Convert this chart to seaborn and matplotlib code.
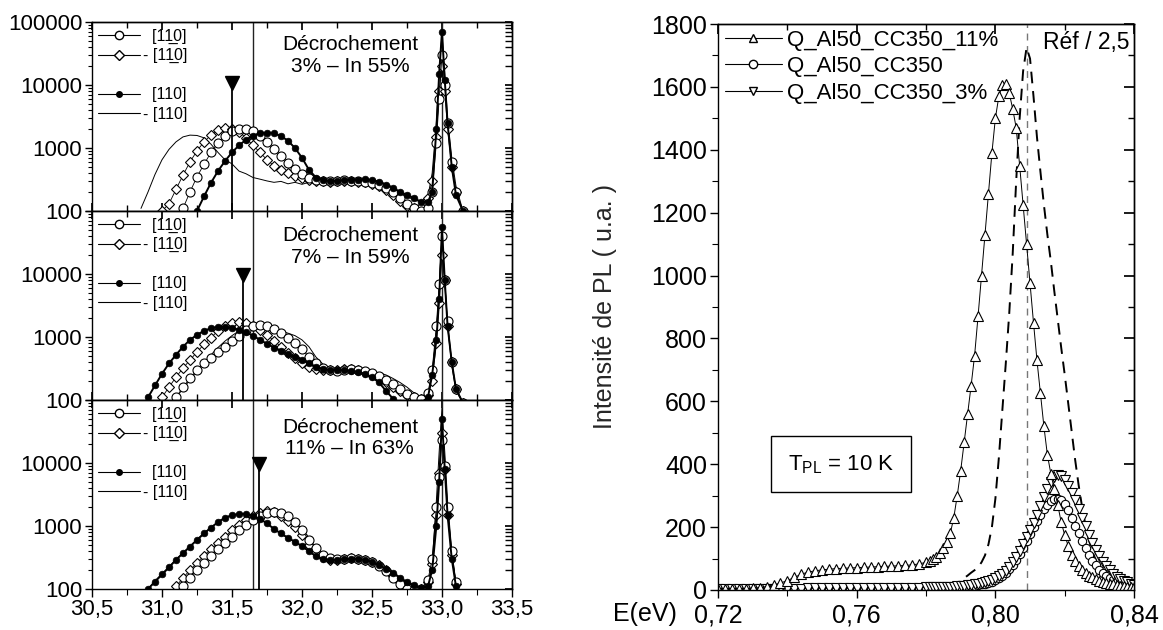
import numpy as np
import pandas as pd
import matplotlib
matplotlib.use("Agg")
import matplotlib.pyplot as plt
import seaborn as sns
from matplotlib.lines import Line2D
from matplotlib.ticker import FixedLocator, NullFormatter

N = np.nan

# ---------------- left panels : common energy grid ----------------
X_L = [30.85, 30.90, 30.95, 31.00, 31.05, 31.10, 31.15, 31.20, 31.25, 31.30,
       31.35, 31.40, 31.45, 31.50, 31.55, 31.60, 31.65, 31.70, 31.75, 31.80,
       31.85, 31.90, 31.95, 32.00, 32.05, 32.10, 32.15, 32.20, 32.25, 32.30,
       32.35, 32.40, 32.45, 32.50, 32.55, 32.60, 32.65, 32.70, 32.75, 32.80,
       32.85, 32.90, 32.93, 32.96, 32.98, 33.00, 33.02, 33.04, 33.07, 33.10,
       33.15]

# panel 1 : 3% - In 55%
P1_THIN = [110, 200, 380, 650, 950, 1250, 1500, 1600, 1580, 1450,
           1150, 850, 650, 560, 430, 390, 340, 320, 300, 285,
           295, 270, 285, 265, 285, 270, 290, 275, 295, 280,
           290, 270, 285, 265, 255, 240, 215, 195, 170, 150,
           140, 170, 400, 2500, 15000, 65000, 15000, 3000, 700, 250,
           100]
P1_DIA = [N, N, N, 100, 130, 220, 370, 600, 900, 1250,
          1600, 1900, 2050, 2000, 1800, 1450, 1100, 850, 650, 520,
          450, 400, 360, 330, 310, 300, 295, 290, 295, 300,
          295, 290, 285, 270, 245, 215, 180, 145, 120, 110,
          115, 160, 300, 1500, 8000, 20000, 8000, 2000, 500, 200,
          100]
P1_CIR = [N, N, N, N, N, N, 110, 200, 350, 550,
          850, 1200, 1550, 1850, 2000, 2000, 1850, 1550, 1250, 950,
          750, 580, 460, 390, 340, 310, 300, 300, 300, 305,
          300, 295, 290, 280, 260, 235, 200, 160, 130, 110,
          100, 110, 200, 1200, 6000, 30000, 10000, 2500, 600, 200,
          100]
P1_FIL = [N, N, N, N, N, N, N, N, 100, 170,
          280, 430, 620, 850, 1100, 1350, 1550, 1700, 1750, 1700,
          1550, 1300, 1000, 700, 450, 340, 310, 300, 300, 310,
          310, 310, 320, 310, 290, 260, 230, 200, 180, 160,
          140, 140, 200, 2000, 15000, 70000, 12000, 2500, 500, 180,
          100]

# panel 2 : 7% - In 59%
P2_THIN = [N, N, N, N, N, 110, 150, 210, 290, 390,
           520, 680, 860, 1050, 1250, 1400, 1450, 1400, 1350, 1300,
           1250, 1150, 1050, 900, 700, 480, 370, 320, 300, 310,
           320, 310, 300, 290, 270, 250, 220, 190, 160, 130,
           110, 120, 250, 1200, 6000, 40000, 7000, 1500, 350, 140,
           90]
P2_DIA = [N, N, N, 110, 160, 230, 320, 430, 580, 760,
          980, 1250, 1500, 1650, 1700, 1650, 1500, 1300, 1080, 870,
          700, 560, 460, 390, 340, 310, 300, 300, 300, 310,
          310, 300, 280, 250, 220, 190, 160, 140, 120, 110,
          105, 120, 200, 800, 3500, 20000, 8000, 1500, 400, 150,
          90]
P2_CIR = [N, N, N, N, N, 110, 160, 220, 300, 380,
          470, 570, 700, 850, 1050, 1300, 1500, 1550, 1500, 1350,
          1150, 950, 800, 650, 480, 380, 320, 300, 290, 300,
          310, 300, 290, 270, 240, 210, 180, 150, 125, 110,
          105, 130, 300, 1500, 7000, 40000, 8000, 1800, 400, 150,
          90]
P2_FIL = [N, 110, 170, 260, 380, 520, 700, 900, 1080, 1250,
          1380, 1450, 1450, 1400, 1300, 1180, 1050, 900, 780, 680,
          600, 530, 480, 430, 380, 340, 310, 300, 300, 300,
          290, 280, 260, 230, 190, 140, 105, 90, 80, 80,
          90, 110, 250, 900, 4000, 55000, 8000, 1500, 400, 150,
          90]

# panel 3 : 11% - In 63%
P3_THIN = [N, 100, 135, 175, 225, 295, 375, 480, 610, 770,
           950, 1160, 1360, 1490, 1550, 1540, 1440, 1290, 1090, 890,
           750, 640, 550, 470, 395, 330, 300, 290, 290, 300,
           300, 300, 290, 270, 240, 210, 175, 145, 125, 110,
           100, 105, 250, 2500, 15000, 74000, 15000, 2500, 400, 120,
           N]
P3_DIA = [N, N, N, N, N, 110, 150, 200, 260, 340,
          430, 540, 680, 850, 1050, 1250, 1450, 1600, 1700, 1650,
          1450, 1200, 950, 720, 500, 380, 320, 290, 290, 300,
          310, 300, 290, 270, 240, 200, 160, 130, 110, 100,
          100, 130, 250, 1500, 7000, 30000, 8000, 1500, 350, 120,
          N]
P3_CIR = [N, N, N, N, N, N, 110, 150, 200, 260,
          340, 430, 540, 680, 850, 1050, 1250, 1450, 1600, 1650,
          1600, 1450, 1150, 850, 600, 440, 350, 310, 300, 300,
          310, 300, 290, 270, 230, 190, 150, 120, 100, 95,
          100, 140, 300, 2000, 6000, 23000, 9000, 2000, 400, 130,
          N]
P3_FIL = [N, 100, 130, 170, 220, 290, 370, 470, 600, 760,
          940, 1150, 1350, 1480, 1550, 1550, 1450, 1300, 1100, 900,
          760, 650, 560, 480, 400, 330, 300, 290, 290, 300,
          300, 300, 290, 270, 240, 210, 180, 150, 130, 115,
          105, 110, 200, 1000, 5000, 50000, 8000, 1500, 300, 110,
          N]

PANELS = [
    (P1_THIN, P1_DIA, P1_CIR, P1_FIL),
    (P2_THIN, P2_DIA, P2_CIR, P2_FIL),
    (P3_THIN, P3_DIA, P3_CIR, P3_FIL),
]
PANEL_TEXT = ["Décrochement\n3% – In 55%",
              "Décrochement\n7% – In 59%",
              "Décrochement\n11% – In 63%"]
PANEL_TEXT_Y = [0.823, 0.812, 0.800]
LEFT_LEGEND = ["  [11\u03320]", "- [11\u03320]", "  [110]", "- [110]"]
VLINES_L = [31.65, 33.0]
MARK_X = [31.50, 31.58, 31.69]
MARK_Y = [10700, 9600, 9600]

XTICKS_L = [30.5, 31.0, 31.5, 32.0, 32.5, 33.0, 33.5]
XTICKLABELS_L = ["30,5", "31,0", "31,5", "32,0", "32,5", "33,0", "33,5"]
XMINOR_L = [30.75, 31.25, 31.75, 32.25, 32.75, 33.25]
YTICKS_L = [100, 1000, 10000, 100000]
YTICKLABELS_TOP = ["100", "1000", "10000", "100000"]
YTICKLABELS_OTHER = ["100", "1000", "10000", ""]

# ---------------- right panel ----------------
X_R = [0.720, 0.722, 0.724, 0.726, 0.728, 0.730, 0.732, 0.734, 0.736, 0.738,
       0.740, 0.742, 0.744, 0.746, 0.748, 0.750, 0.752, 0.754, 0.756, 0.758,
       0.760, 0.762, 0.764, 0.766, 0.768, 0.770, 0.772, 0.774, 0.776, 0.778,
       0.780,
       0.781, 0.782, 0.783, 0.784, 0.785, 0.786, 0.787, 0.788, 0.789, 0.790,
       0.791, 0.792, 0.793, 0.794, 0.795, 0.796, 0.797, 0.798, 0.799, 0.800,
       0.801, 0.802, 0.803, 0.804, 0.805, 0.806, 0.807, 0.808, 0.809, 0.810,
       0.811, 0.812, 0.813, 0.814, 0.815, 0.816, 0.817, 0.818, 0.819, 0.820,
       0.821, 0.822, 0.823, 0.824, 0.825, 0.826, 0.827, 0.828, 0.829, 0.830,
       0.831, 0.832, 0.833, 0.834, 0.835, 0.836, 0.837, 0.838, 0.839, 0.840]

R_TRI = [3, 3, 3, 4, 4, 5, 7, 11, 16, 22,
         30, 40, 50, 57, 61, 64, 66, 68, 69, 70,
         71, 72, 73, 74, 75, 76, 77, 78, 80, 83,
         88,
         92, 98, 106, 117, 132, 152, 180, 230, 300, 380,
         470, 560, 650, 745, 870, 1000, 1130, 1260, 1390, 1500,
         1570, 1605, 1610, 1580, 1530, 1470, 1350, 1225, 1100, 975,
         850, 730, 625, 520, 430, 370, 320, 270, 215, 175,
         140, 112, 92, 76, 64, 54, 46, 40, 35, 30,
         26, 23, 20, 18, 16, 14, 12, 11, 10, 9]
R_CIR = [2, 2, 2, 2, 3, 3, 3, 3, 3, 3,
         3, 3, 3, 4, 4, 4, 4, 4, 4, 4,
         4, 5, 5, 5, 5, 5, 5, 6, 6, 6,
         6,
         6, 7, 7, 7, 8, 8, 9, 9, 10, 10,
         11, 12, 13, 14, 16, 18, 20, 23, 27, 32,
         38, 45, 54, 66, 80, 96, 114, 134, 155, 177,
         199, 220, 240, 257, 271, 282, 288, 290, 285, 272,
         253, 230, 205, 180, 155, 132, 111, 93, 78, 65,
         54, 45, 37, 31, 26, 22, 18, 15, 12, 10]
R_DTR = [3, 3, 3, 3, 3, 3, 4, 4, 4, 4,
         4, 4, 4, 5, 5, 5, 5, 5, 5, 5,
         6, 6, 6, 6, 6, 6, 7, 7, 7, 7,
         8,
         8, 8, 9, 9, 10, 10, 11, 11, 12, 13,
         14, 15, 16, 18, 20, 22, 25, 28, 32, 37,
         43, 51, 61, 73, 88, 105, 124, 145, 167, 190,
         213, 240, 268, 295, 320, 342, 358, 365, 362, 350,
         332, 310, 285, 258, 230, 202, 175, 150, 128, 108,
         90, 75, 62, 51, 42, 35, 29, 24, 20, 17]
R_REF = [N, N, N, N, N, N, N, N, N, N,
         N, N, N, N, N, N, N, N, N, N,
         N, N, N, N, N, N, N, N, N, N,
         N,
         N, N, N, N, N, N, 6, 12, 22, 30,
         38, 46, 55, 63, 72, 88, 110, 145, 200, 290,
         420, 570, 720, 880, 1070, 1300, 1500, 1650, 1725, 1690,
         1570, 1440, 1330, 1225, 1130, 1045, 950, 860, 770, 685,
         595, 505, 415, 335, 265, 205, 158, 122, 94, 73,
         58, 46, 37, 30, 25, 21, 17, 14, 12, 10]
REF_VLINE = 0.809
RIGHT_LEGEND = ["Q_Al50_CC350_11%", "Q_Al50_CC350", "Q_Al50_CC350_3%"]
XTICKS_R = [0.72, 0.76, 0.80, 0.84]
XTICKLABELS_R = ["0,72", "0,76", "0,80", "0,84"]
XMINOR_R = [0.74, 0.78, 0.82]
YTICKS_R = [0, 200, 400, 600, 800, 1000, 1200, 1400, 1600, 1800]
YMINOR_R = [100, 300, 500, 700, 900, 1100, 1300, 1500, 1700]

# ---------------- style ----------------
sns.set_theme(style="ticks")
plt.rcParams["font.family"] = ["Liberation Sans", "DejaVu Sans"]
plt.rcParams["mathtext.fontset"] = "custom"
plt.rcParams["mathtext.rm"] = "Liberation Sans"
plt.rcParams["axes.edgecolor"] = "black"
plt.rcParams["axes.linewidth"] = 1.0
plt.rcParams["xtick.color"] = "black"
plt.rcParams["ytick.color"] = "black"
plt.rcParams["text.color"] = "black"

fig = plt.figure(figsize=(11.63, 6.30), dpi=100)
fig.patch.set_facecolor("white")


def draw(ax, x, y, **kw):
    df = pd.DataFrame({"E": x, "I": y}).dropna()
    sns.lineplot(data=df, x="E", y="I", ax=ax, sort=False, estimator=None,
                 legend=False, **kw)


STY_THIN = dict(color="black", linewidth=0.7)
STY_DIA = dict(color="black", linewidth=0.6, marker="D", markersize=5.5,
               markerfacecolor="white", markeredgecolor="black", markeredgewidth=0.8)
STY_CIR = dict(color="black", linewidth=0.6, marker="o", markersize=6.5,
               markerfacecolor="white", markeredgecolor="black", markeredgewidth=0.8)
STY_FIL = dict(color="black", linewidth=1.4, marker="o", markersize=4.8,
               markerfacecolor="black", markeredgecolor="black", markeredgewidth=0.5)

bottoms = [0.6651, 0.3651, 0.0651]
for i, b in enumerate(bottoms):
    ax = fig.add_axes([0.0791, b, 0.3611, 0.3])
    ax.set_yscale("log")
    thin, dia, cir, fil = PANELS[i]
    draw(ax, X_L, thin, **STY_THIN)
    draw(ax, X_L, dia, **STY_DIA)
    draw(ax, X_L, cir, **STY_CIR)
    draw(ax, X_L, fil, **STY_FIL)
    for v in VLINES_L:
        ax.axvline(v, color="#222222", lw=1.0, zorder=1)
    ax.vlines(MARK_X[i], 100, MARK_Y[i], color="black", lw=1.3, zorder=4)
    ax.plot([MARK_X[i]], [MARK_Y[i]], marker="v", ms=10, color="black", zorder=5)
    ax.set_xlim(30.5, 33.5)
    ax.set_ylim(100, 100000)
    ax.set_xlabel("")
    ax.set_ylabel("")
    ax.xaxis.set_major_locator(FixedLocator(XTICKS_L))
    ax.xaxis.set_minor_locator(FixedLocator(XMINOR_L))
    ax.yaxis.set_major_locator(FixedLocator(YTICKS_L))
    ax.set_yticklabels(YTICKLABELS_TOP if i == 0 else YTICKLABELS_OTHER)
    ax.yaxis.set_minor_locator(matplotlib.ticker.LogLocator(base=10, subs=np.arange(2, 10)))
    ax.yaxis.set_minor_formatter(NullFormatter())
    ax.tick_params(axis="y", which="major", direction="out", length=5, width=1, labelsize=16, pad=2)
    ax.tick_params(axis="y", which="minor", direction="out", length=3, width=0.8)
    if i == 2:
        ax.set_xticklabels(XTICKLABELS_L)
        ax.tick_params(axis="x", which="major", direction="out", length=6, width=1,
                       labelsize=16, pad=1)
        ax.tick_params(axis="x", which="minor", direction="out", length=4, width=0.8)
    else:
        ax.tick_params(axis="x", which="both", direction="in", labelbottom=False)
        ax.tick_params(axis="x", which="major", length=6)
        ax.tick_params(axis="x", which="minor", length=4)
    sx = ax.secondary_xaxis("top")
    sx.xaxis.set_major_locator(FixedLocator(XTICKS_L))
    sx.xaxis.set_minor_locator(FixedLocator(XMINOR_L))
    sx.tick_params(axis="x", which="both", direction="in", labeltop=False)
    sx.tick_params(axis="x", which="major", length=6)
    sx.tick_params(axis="x", which="minor", length=4)
    sy = ax.secondary_yaxis("right")
    sy.yaxis.set_major_locator(FixedLocator(YTICKS_L))
    sy.tick_params(axis="y", which="both", direction="in", labelright=False, length=5)
    sy.yaxis.set_minor_formatter(NullFormatter())
    ax.text(0.614, PANEL_TEXT_Y[i], PANEL_TEXT[i], transform=ax.transAxes,
            ha="center", va="center", fontsize=15, linespacing=1.15)
    handles = [
        Line2D([], [], color="black", lw=0.8, marker="o", ms=6,
               markerfacecolor="white", markeredgecolor="black"),
        Line2D([], [], color="black", lw=0.8, marker="D", ms=5,
               markerfacecolor="white", markeredgecolor="black"),
        Line2D([], [], color="none"),
        Line2D([], [], color="black", lw=0.8, marker="o", ms=4,
               markerfacecolor="black", markeredgecolor="black"),
        Line2D([], [], color="black", lw=0.8),
    ]
    labels = [LEFT_LEGEND[0], LEFT_LEGEND[1], "", LEFT_LEGEND[2], LEFT_LEGEND[3]]
    ax.legend(handles, labels, loc="upper left", bbox_to_anchor=(0.015, 0.965),
              frameon=False, fontsize=11.5, handlelength=2.6, handletextpad=0.2,
              labelspacing=0.28, borderpad=0, borderaxespad=0)

# ---------------- right panel ----------------
axr = fig.add_axes([0.6174, 0.0635, 0.3577, 0.8984])
axr.axvline(REF_VLINE, color="#777777", lw=1.0, linestyle=(0, (5, 4)), zorder=1)
draw(axr, X_R, R_REF, color="black", linewidth=1.4, linestyle=(0, (6, 4)))
draw(axr, X_R, R_CIR, color="black", linewidth=0.7, marker="o", markersize=6,
     markerfacecolor="white", markeredgecolor="black", markeredgewidth=0.8)
draw(axr, X_R, R_DTR, color="black", linewidth=0.7, marker="v", markersize=6.5,
     markerfacecolor="white", markeredgecolor="black", markeredgewidth=0.8)
draw(axr, X_R, R_TRI, color="black", linewidth=0.7, marker="^", markersize=6.5,
     markerfacecolor="white", markeredgecolor="black", markeredgewidth=0.8)
axr.set_xlim(0.72, 0.84)
axr.set_ylim(0, 1800)
axr.set_xlabel("")
axr.set_ylabel("Intensité de PL ( u.a. )", fontsize=18)
axr.yaxis.set_label_coords(-0.243, 0.5)
axr.xaxis.set_major_locator(FixedLocator(XTICKS_R))
axr.set_xticklabels(XTICKLABELS_R)
axr.xaxis.set_minor_locator(FixedLocator(XMINOR_R))
axr.yaxis.set_major_locator(FixedLocator(YTICKS_R))
axr.yaxis.set_minor_locator(FixedLocator(YMINOR_R))
axr.tick_params(axis="both", which="major", direction="out", length=6, width=1,
                labelsize=18, pad=2)
axr.tick_params(axis="x", which="major", pad=4)
axr.tick_params(axis="both", which="minor", direction="out", length=4, width=0.8)
sx = axr.secondary_xaxis("top")
sx.xaxis.set_major_locator(FixedLocator(XTICKS_R))
sx.xaxis.set_minor_locator(FixedLocator(XMINOR_R))
sx.tick_params(axis="x", which="both", direction="in", labeltop=False)
sx.tick_params(axis="x", which="major", length=7)
sx.tick_params(axis="x", which="minor", length=4)
sy = axr.secondary_yaxis("right")
sy.yaxis.set_major_locator(FixedLocator(YTICKS_R))
sy.yaxis.set_minor_locator(FixedLocator(YMINOR_R))
sy.tick_params(axis="y", which="both", direction="in", labelright=False)
sy.tick_params(axis="y", which="major", length=7)
sy.tick_params(axis="y", which="minor", length=4)

axr.text(-0.10, -0.042, "E(eV)", transform=axr.transAxes, ha="right", va="center",
         fontsize=18)
axr.text(0.988, 0.968, "Réf / 2,5", transform=axr.transAxes, ha="right", va="center",
         fontsize=16.5)
axr.text(0.7555, 400, "T$_{\\mathrm{PL}}$ = 10 K", ha="center", va="center", fontsize=16,
         bbox=dict(boxstyle="square,pad=0.75", facecolor="white", edgecolor="black", lw=1))

rh = [
    Line2D([], [], color="black", lw=0.8, marker="^", ms=6,
           markerfacecolor="white", markeredgecolor="black"),
    Line2D([], [], color="black", lw=0.8, marker="o", ms=6,
           markerfacecolor="white", markeredgecolor="black"),
    Line2D([], [], color="black", lw=0.8, marker="v", ms=6,
           markerfacecolor="white", markeredgecolor="black"),
]
axr.legend(rh, RIGHT_LEGEND, loc="upper left", bbox_to_anchor=(0.017, 0.99),
           frameon=False, fontsize=16, handlelength=2.55, handletextpad=0.25,
           labelspacing=0.25, borderpad=0, borderaxespad=0)

fig.savefig("out.png", dpi=100, facecolor="white")
